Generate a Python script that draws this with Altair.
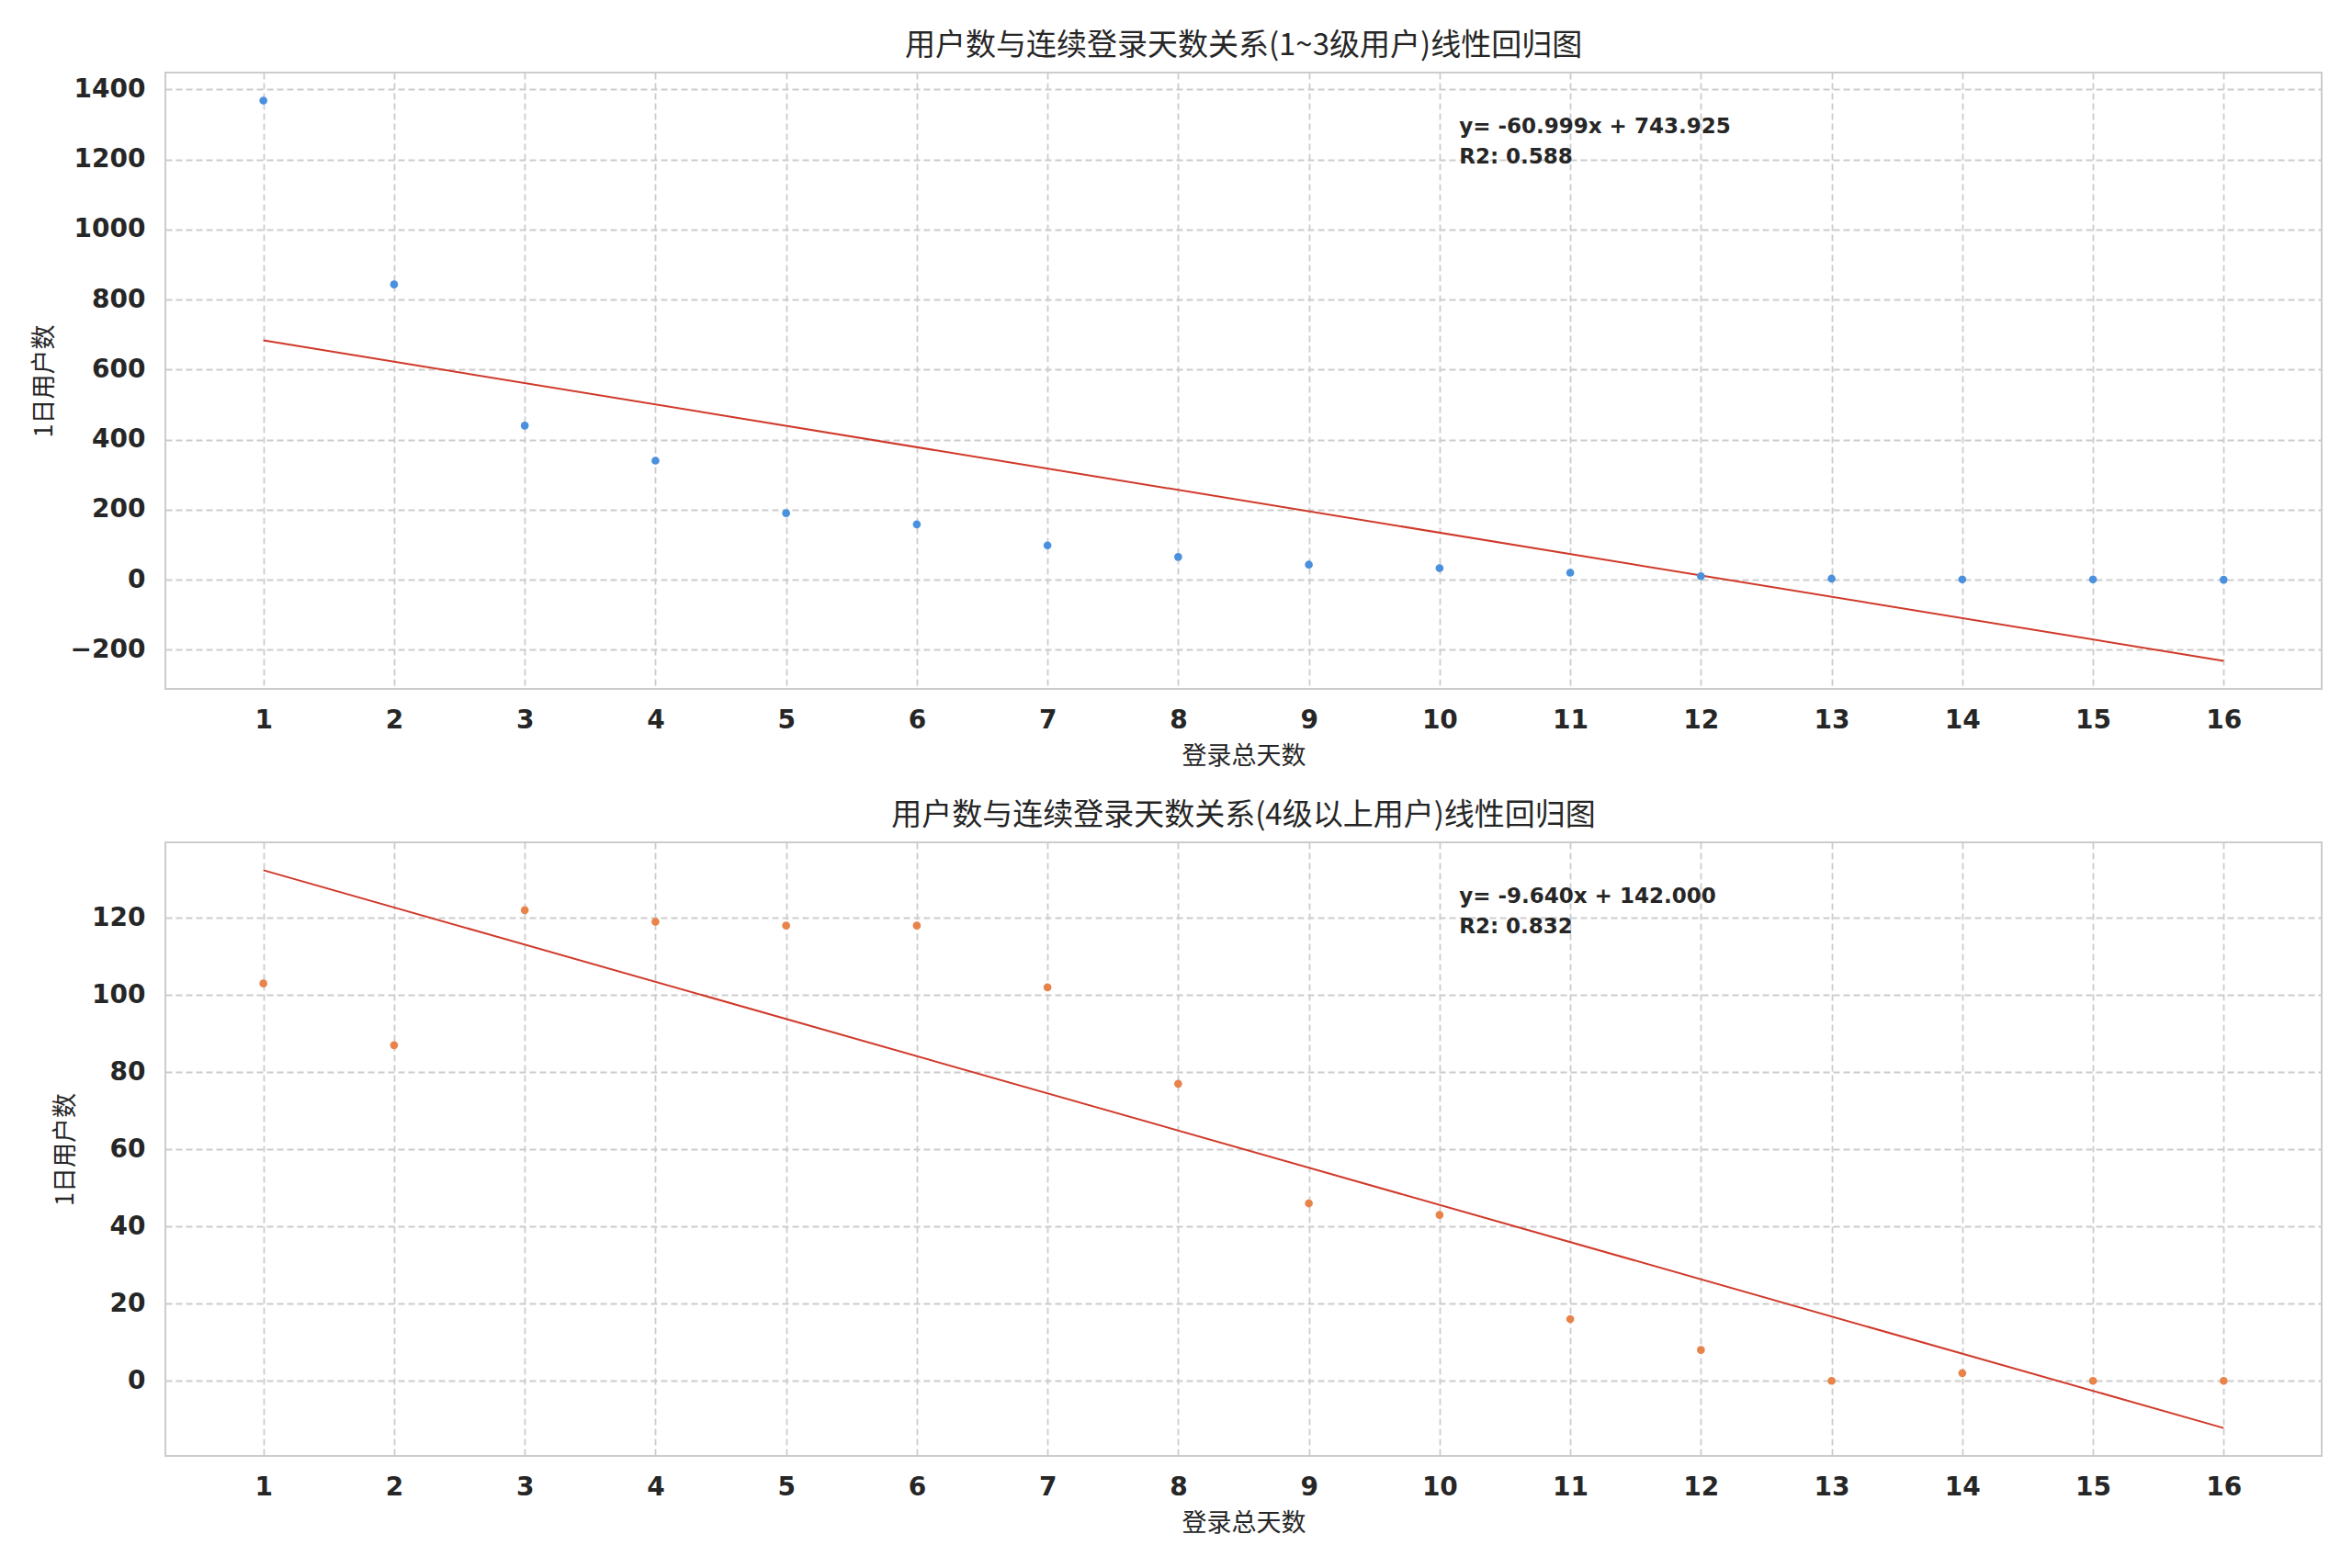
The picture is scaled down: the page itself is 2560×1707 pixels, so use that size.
import altair as alt
import pandas as pd
import numpy as np

# ---- data ----
days = list(range(1, 17))
counts_low = [1368, 843, 440, 340, 190, 158, 98, 65, 43, 33, 20, 10, 3, 1, 1, 0]
counts_high = [103, 87, 122, 119, 118, 118, 102, 77, 46, 43, 16, 8, 0, 2, 0, 0]

title_low = "用户数与连续登录天数关系(1~3级用户)线性回归图"
title_high = "用户数与连续登录天数关系(4级以上用户)线性回归图"
x_title = "登录总天数"
y_title = "1日用户数"
eq_low = ["y= -60.999x + 743.925", "R2: 0.588"]
eq_high = ["y= -9.640x + 142.000", "R2: 0.832"]

BLUE = "#4A90DD"
ORANGE = "#E8834A"
RED = "#D0392A"
GRID = "#CCCCCC"
TXT = "#262626"
CJK = "Noto Sans CJK SC"
LAT = "DejaVu Sans"

W = 2347


def y_domain(vals):
    slope, icpt = np.polyfit(days, vals, 1)
    line_ends = [slope * days[0] + icpt, slope * days[-1] + icpt]
    lo = min(min(vals), *line_ends)
    hi = max(max(vals), *line_ends)
    m = (hi - lo) * 0.05
    return [float(lo - m), float(hi + m)]


def panel(vals, color, title, eq, yticks, height):
    df = pd.DataFrame({"x": days, "y": vals})
    dom = y_domain(vals)
    xs = alt.X("x:Q",
               scale=alt.Scale(domain=[0.25, 16.75], nice=False, zero=False),
               axis=alt.Axis(values=days, title=x_title, format="d"))
    ys = alt.Y("y:Q",
               scale=alt.Scale(domain=dom, nice=False, zero=False),
               axis=alt.Axis(values=yticks, title=y_title, format="d"))
    base = alt.Chart(df)
    pts = base.mark_circle(color=color, size=75, opacity=1).encode(x=xs, y=ys)
    line = base.transform_regression("x", "y", extent=[1, 16]).mark_line(
        color=RED, strokeWidth=2).encode(x=xs, y=ys)
    tdf = pd.DataFrame({"t": eq})
    t1 = alt.Chart(tdf.iloc[[0]]).mark_text(
        align="left", baseline="middle", font=LAT, fontWeight="bold",
        fontSize=23, color=TXT).encode(x=alt.value(W * 0.6), y=alt.value(59), text="t:N")
    t2 = alt.Chart(tdf.iloc[[1]]).mark_text(
        align="left", baseline="middle", font=LAT, fontWeight="bold",
        fontSize=23, color=TXT).encode(x=alt.value(W * 0.6), y=alt.value(92), text="t:N")
    return alt.layer(line, pts, t1, t2).properties(
        width=W, height=height,
        title=alt.TitleParams(title, font=CJK, fontSize=33, fontWeight="normal",
                              color=TXT, offset=12, anchor="middle"))


top = panel(counts_low, BLUE, title_low, eq_low, list(range(-200, 1401, 200)), 671)
bot = panel(counts_high, ORANGE, title_high, eq_high, list(range(0, 121, 20)), 668)

chart = alt.vconcat(top, bot, spacing=34).properties(
    padding={"left": 25, "top": 25, "right": 5, "bottom": 5},
    background="white",
).configure_view(
    stroke=GRID, strokeWidth=2
).configure_axis(
    grid=True, gridColor=GRID, gridDash=[7, 4], gridWidth=1.8,
    domain=False, ticks=False,
    labelFont=LAT, labelFontWeight="bold", labelFontSize=28, labelColor=TXT,
    labelPadding=20,
    titleFont=CJK, titleFontWeight="normal", titleFontSize=27, titleColor=TXT,
    titlePadding=12,
).configure_axisY(labelPadding=22, titlePadding=14)

chart.save("out.html", embed_options={"renderer": "svg", "actions": False})
